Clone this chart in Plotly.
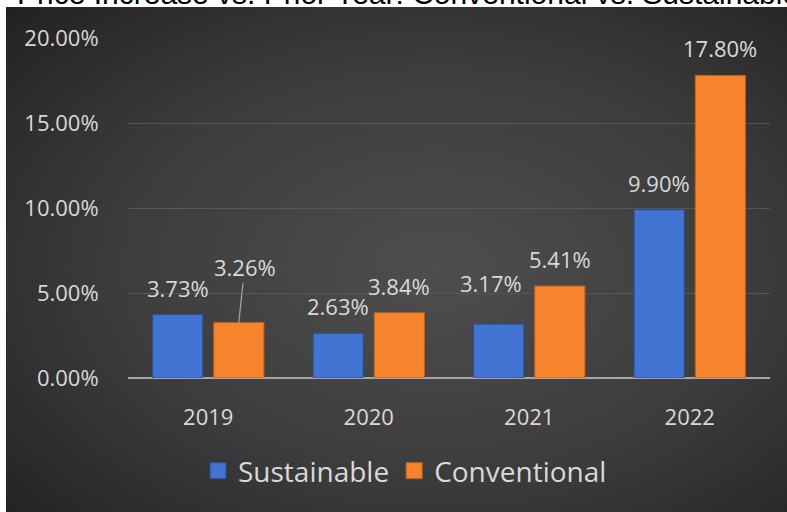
import base64
import plotly.graph_objects as go

years = ["2019", "2020", "2021", "2022"]
sustainable = [3.73, 2.63, 3.17, 9.90]
conventional = [3.26, 3.84, 5.41, 17.80]
series_names = ["Sustainable", "Conventional"]
title_text = "Price Increase vs. Prior Year: Conventional vs. Sustainable"
y_ticks = [0, 5, 10, 15, 20]
y_tick_labels = [f"{v:.2f}%" for v in y_ticks]

W, H = 787, 512
ML, MR, MT, MB = 128, 17, 38, 134
PW, PH = W - ML - MR, H - MT - MB


def px_x(x):
    return (x - ML) / PW


def px_y(y):
    return (H - MB - y) / PH


svg = f"""<svg xmlns='http://www.w3.org/2000/svg' width='781' height='505' viewBox='0 0 781 505' preserveAspectRatio='none'>
<defs><radialGradient id='g' cx='55%' cy='52%' r='75%'>
<stop offset='0' stop-color='#4e4e4e'/><stop offset='0.55' stop-color='#3c3c3c'/><stop offset='1' stop-color='#222222'/>
</radialGradient></defs><rect width='781' height='505' fill='url(#g)'/></svg>"""
bg_src = "data:image/svg+xml;base64," + base64.b64encode(svg.encode()).decode()

txt_col = "#d9d9d9"
font = "Open Sans"
colors = ["#4274d4", "#f6842c"]
edges = ["#2b4f92", "#c0621a"]

fig = go.Figure()
for name, vals, c, e in zip(series_names, [sustainable, conventional], colors, edges):
    fig.add_bar(x=years, y=vals, name=name, showlegend=False,
                marker=dict(color=c, line=dict(color=e, width=1)))
for name, c, e in zip(series_names, colors, edges):
    fig.add_scatter(x=[None], y=[None], mode="markers", name=name,
                    marker=dict(symbol="square", size=16, color=c,
                                line=dict(color=e, width=1)))

annotations = []
shift = 30.5
for i, yr in enumerate(years):
    for j, vals in enumerate([sustainable, conventional]):
        v = vals[i]
        xs = -shift if j == 0 else shift
        label = f"{v:.2f}%"
        if j == 1 and i == 0:
            annotations.append(dict(x=i, y=v, xref="x", yref="y", xshift=xs,
                                    text=label, showarrow=True, arrowhead=0,
                                    arrowwidth=1.2, arrowcolor="#a6a6a6",
                                    ax=6, ay=-56, standoff=0,
                                    font=dict(family=font, size=22, color=txt_col)))
            continue
        ys = 27
        if j == 0 and i == 2:
            ys = 41
            xs -= 8
        annotations.append(dict(x=i, y=v, xref="x", yref="y", xshift=xs, yshift=ys,
                                text=label, showarrow=False, yanchor="middle",
                                font=dict(family=font, size=22, color=txt_col)))

annotations.append(dict(x=px_x(15), y=px_y(12), xref="paper", yref="paper",
                        xanchor="left", yanchor="bottom", text=title_text,
                        showarrow=False,
                        font=dict(family="Liberation Sans", size=30, color="#000000")))

fig.update_layout(
    width=W, height=H,
    margin=dict(l=ML, r=MR, t=MT, b=MB),
    paper_bgcolor="#ffffff",
    plot_bgcolor="rgba(0,0,0,0)",
    barmode="group", bargap=0.2375, bargroupgap=0.18,
    showlegend=True,
    legend=dict(orientation="h", x=px_x(405), xanchor="center",
                y=px_y(471), yanchor="middle", itemwidth=30,
                font=dict(family=font, size=28, color=txt_col),
                bgcolor="rgba(0,0,0,0)"),
    images=[dict(source=bg_src, xref="paper", yref="paper",
                 x=px_x(6), y=px_y(7), sizex=781 / PW, sizey=505 / PH,
                 xanchor="left", yanchor="top", sizing="stretch", layer="below")],
    annotations=annotations,
)
fig.update_xaxes(type="category", range=[-0.5, len(years) - 0.5],
                 showgrid=False, showline=False, zeroline=False,
                 tickfont=dict(family=font, size=22, color=txt_col),
                 ticks="outside", ticklen=20, tickcolor="rgba(0,0,0,0)")
fig.update_yaxes(range=[0, 20], tickvals=y_ticks, ticktext=y_tick_labels,
                 showgrid=True, gridcolor="#575757", gridwidth=1,
                 zeroline=True, zerolinecolor="#a6a6a6", zerolinewidth=2,
                 showline=False,
                 tickfont=dict(family=font, size=22, color=txt_col),
                 ticks="outside", ticklen=24, tickcolor="rgba(0,0,0,0)")

fig.write_html("out.html", config={"displayModeBar": False},
               post_script="document.body.style.margin='0';")
